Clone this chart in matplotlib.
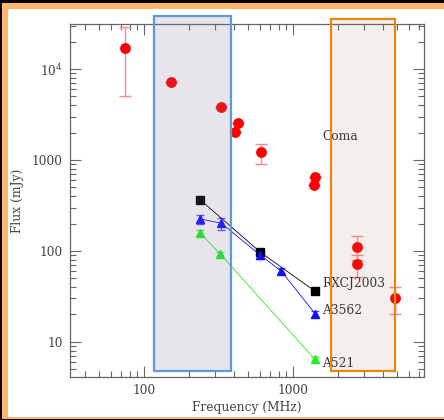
import matplotlib
matplotlib.use("Agg")
import matplotlib.pyplot as plt
from matplotlib.patches import Rectangle
from matplotlib.ticker import FixedLocator, FixedFormatter, NullFormatter

# Coma data
coma_freq = [74, 151, 326, 404, 425, 608, 1380, 1400, 2675, 2700, 4850]
coma_flux = [17000, 7200, 3850, 2010, 2570, 1210, 535, 655, 111, 72, 30.4]
coma_err_lo = [12000, 0, 0, 0, 0, 310, 0, 0, 31, 21, 10]
coma_err_hi = [12000, 0, 0, 0, 0, 290, 0, 0, 33, 17, 10]

# RXCJ2003
rx_freq = [238, 600, 1400]
rx_flux = [363, 97, 36]
rx_err = [20, 8, 2.5]

# A3562
a3562_freq = [238, 329, 600, 830, 1400]
a3562_flux = [225, 201, 90, 60, 20.4]
a3562_err = [25, 30, 8, 5, 1.5]

# A521
a521_freq = [238, 324, 1400]
a521_flux = [157, 92, 6.4]
a521_err = [12, 6, 0.4]

series_labels = ["Coma", "RXCJ2003", "A3562", "A521"]
yticks = [10, 100, 1000, 10000]
ytick_labels = ["10", "100", "1000", r"10$^4$"]
xticks = [100, 1000]
xtick_labels = ["100", "1000"]

W, H = 444, 420
fig = plt.figure(figsize=(W / 100, H / 100), dpi=100, facecolor="black")
fig.patches.append(Rectangle((2 / W, 1 / H), 1, 416 / H, transform=fig.transFigure,
                             facecolor="#ffb56a", edgecolor="none", zorder=-10))
fig.patches.append(Rectangle((8 / W, 3 / H), 1, 408 / H, transform=fig.transFigure,
                             facecolor="white", edgecolor="none", zorder=-9))

ax = fig.add_axes([70 / W, 1 - 377 / H, 354 / W, 353 / H])
ax.set_xscale("log")
ax.set_yscale("log")
ax.set_xlim(31.7, 7550)
ax.set_ylim(4.1, 31300)
ax.patch.set_alpha(0)

serif = "DejaVu Serif"
tcol = "#444444"
fs = 8.8

# Coma
ax.errorbar(coma_freq, coma_flux, yerr=[coma_err_lo, coma_err_hi], fmt="o",
            color="#ff0000", ms=7.8, mec="none", ecolor="#ff8888", elinewidth=1,
            capsize=4, capthick=1, zorder=3)
# RXCJ2003
ax.errorbar(rx_freq, rx_flux, yerr=rx_err, fmt="s-", color="black", lw=0.6,
            ms=5.5, ecolor="#555555", elinewidth=0.8, capsize=3, zorder=3)
# A3562
ax.errorbar(a3562_freq, a3562_flux, yerr=a3562_err, fmt="^-", color="#1010ff", lw=0.6,
            ms=6, ecolor="#5555ff", elinewidth=0.8, capsize=3, zorder=3)
# A521
ax.errorbar(a521_freq, a521_flux, yerr=a521_err, fmt="^-", color="#22ee22", lw=0.6,
            ms=6, ecolor="#55ee55", elinewidth=0.8, capsize=3, zorder=3)

txt_kw = dict(fontsize=fs, family=serif, color="#333333", va="center", ha="left")
ax.text(1560, 1790, series_labels[0], **txt_kw)
ax.text(1560, 44, series_labels[1], **txt_kw)
ax.text(1560, 22.3, series_labels[2], **txt_kw)
ax.text(1560, 5.7, series_labels[3], **txt_kw)

# bands
ax.add_patch(Rectangle((116, 4.73), 384 - 116, 38500 - 4.73, facecolor=(0.5, 0.45, 0.62, 0.19),
                       edgecolor="#5b9bd8", lw=1.6, clip_on=False, zorder=5))
ax.add_patch(Rectangle((1780, 4.79), 4840 - 1780, 35400 - 4.79, facecolor=(0.62, 0.45, 0.35, 0.11),
                       edgecolor="#e8860f", lw=1.6, clip_on=False, zorder=5))

for s in ax.spines.values():
    s.set_color("#666666")
    s.set_linewidth(0.9)

ax.xaxis.set_major_locator(FixedLocator(xticks))
ax.xaxis.set_major_formatter(FixedFormatter(xtick_labels))
ax.xaxis.set_minor_locator(FixedLocator([k * 10 ** e for e in [1, 2, 3] for k in range(2, 10)]))
ax.xaxis.set_minor_formatter(NullFormatter())
ax.yaxis.set_major_locator(FixedLocator(yticks))
ax.yaxis.set_major_formatter(FixedFormatter(ytick_labels))
ax.yaxis.set_minor_locator(FixedLocator([k * 10 ** e for e in [0, 1, 2, 3, 4] for k in range(2, 10)]))
ax.yaxis.set_minor_formatter(NullFormatter())
ax.tick_params(which="both", direction="in", top=True, right=True, colors="#666666",
               labelcolor=tcol, labelsize=fs, width=0.8)
ax.tick_params(which="major", length=8, pad=5)
ax.tick_params(which="minor", length=4)
for lab in ax.get_xticklabels() + ax.get_yticklabels():
    lab.set_family(serif)

ax.set_xlabel("Frequency (MHz)", family=serif, fontsize=fs, color=tcol, labelpad=3)
ax.set_ylabel("Flux (mJy)", family=serif, fontsize=fs, color=tcol, labelpad=6)

fig.savefig("out.png", dpi=100, facecolor=fig.get_facecolor())
